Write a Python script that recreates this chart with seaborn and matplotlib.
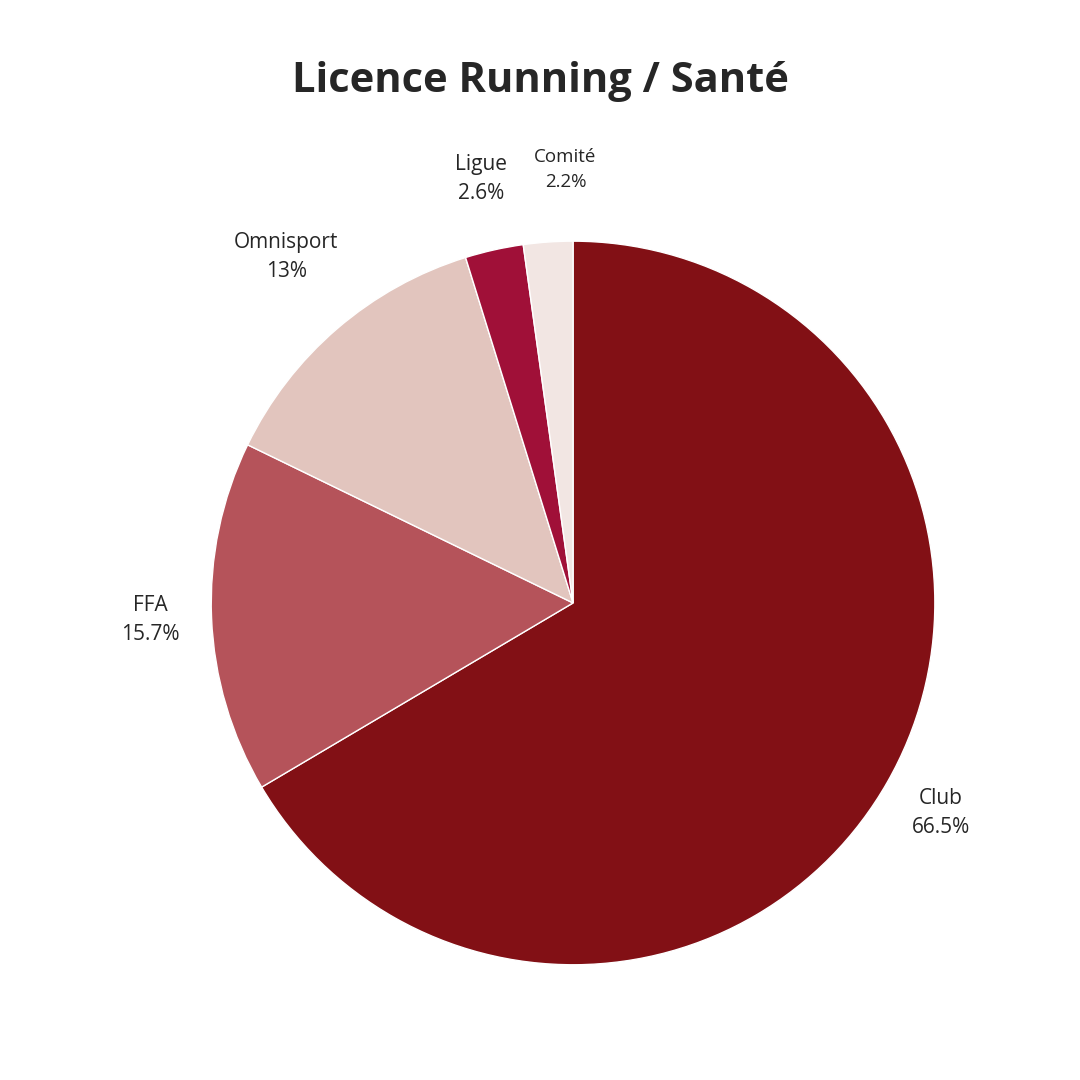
import matplotlib
matplotlib.use("Agg")
import matplotlib.pyplot as plt
import seaborn as sns

sns.set_style("white")
plt.rcParams["font.family"] = "Open Sans"

categories = ["Club", "FFA", "Omnisport", "Ligue", "Comité"]
values = [66.5, 15.7, 13, 2.6, 2.2]
pct_labels = ["66.5%", "15.7%", "13%", "2.6%", "2.2%"]
colors = sns.color_palette(["#821015", "#B5535A", "#E2C5BE", "#A01038", "#F2E6E3"])

fig = plt.figure(figsize=(10.8, 10.8), dpi=100)
r = 0.335
ax = fig.add_axes([0.5306 - r, 0.4417 - r, 2 * r, 2 * r])
wedges, texts = ax.pie(values, colors=colors, startangle=90, counterclock=False,
                       labels=[f"{c}\n{p}" for c, p in zip(categories, pct_labels)],
                       labeldistance=1.17,
                       wedgeprops=dict(linewidth=1, edgecolor="white"),
                       textprops=dict(fontsize=15, ha="center", va="center", linespacing=1.5))
# nudge labels of small slices like the reference
offsets = {"Omnisport": (-0.03, 0.07), "Ligue": (0.0, 0.03), "Comité": (0.06, 0.03)}
for t, c in zip(texts, categories):
    t.set_horizontalalignment("center")
    if c in offsets:
        x, y = t.get_position()
        dx, dy = offsets[c]
        t.set_position((x + dx, y + dy))
    if c == "Comité":
        t.set_fontsize(13.5)
ax.set_aspect("equal")
ax.set_xlim(-1, 1)
ax.set_ylim(-1, 1)

fig.text(0.5, 0.925, "Licence Running / Santé", ha="center", va="center",
         fontsize=30, fontweight="bold")
fig.savefig("out.png", dpi=100, facecolor="white")
